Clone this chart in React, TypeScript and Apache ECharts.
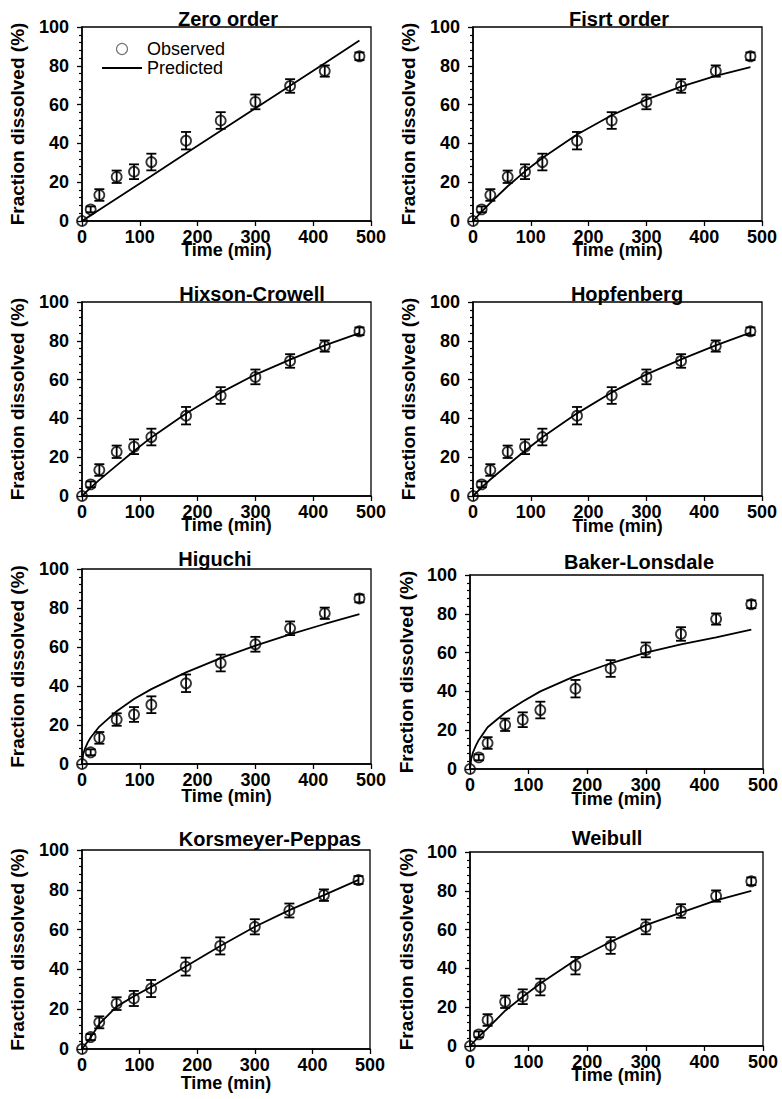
import React, { useEffect, useRef } from "react";
import * as echarts from "echarts";

// ---------- data ----------
const TIME = [0, 15, 30, 60, 90, 120, 180, 240, 300, 360, 420, 480];
const TIME_DENSE = [0, 2, 5, 10, 15, 30, 60, 90, 120, 180, 240, 300, 360, 420, 480];
const OBSERVED = [0, 6.0, 13.4, 22.8, 25.4, 30.4, 41.4, 51.8, 61.4, 69.6, 77.3, 84.9];
const OBSERVED_SD = [0, 1.5, 3.0, 3.2, 3.8, 4.3, 4.5, 4.3, 3.8, 3.5, 2.9, 2.0];

const ZERO_ORDER = [0, 2.9, 5.8, 11.6, 17.4, 23.2, 34.9, 46.5, 58.1, 69.7, 81.3, 93.0];
const FIRST_ORDER = [0, 4.8, 9.4, 17.9, 25.6, 32.5, 44.6, 54.5, 62.6, 69.3, 74.8, 79.3];
const HIXSON_CROWELL = [0, 4.3, 8.3, 15.8, 23.2, 30.2, 42.5, 53.3, 62.6, 70.3, 77.6, 84.0];
const HOPFENBERG = [0, 4.4, 8.5, 16.0, 23.3, 30.3, 42.6, 53.4, 62.7, 70.4, 77.6, 84.2];
const HIGUCHI = [0, 5.0, 7.8, 11.1, 13.6, 19.2, 27.1, 33.3, 38.4, 47.0, 54.3, 60.7, 66.5, 71.8, 76.8];
const BAKER_LONSDALE = [0, 5.0, 8.5, 12.0, 15.0, 21.5, 29.0, 34.8, 40.0, 48.0, 54.5, 60.0, 64.2, 67.8, 71.8];
const KORSMEYER_PEPPAS = [0, 5.8, 12.6, 21.3, 26.5, 31.2, 41.5, 51.8, 61.4, 69.8, 77.3, 85.0];
const WEIBULL = [0, 4.8, 9.1, 18.2, 25.4, 32.2, 44.3, 53.7, 62.3, 68.8, 75.1, 79.9];

const TITLES = [
  "Zero order",
  "Fisrt order",
  "Hixson-Crowell",
  "Hopfenberg",
  "Higuchi",
  "Baker-Lonsdale",
  "Korsmeyer-Peppas",
  "Weibull",
];
const PREDICTED = [
  ZERO_ORDER,
  FIRST_ORDER,
  HIXSON_CROWELL,
  HOPFENBERG,
  HIGUCHI,
  BAKER_LONSDALE,
  KORSMEYER_PEPPAS,
  WEIBULL,
];
const PREDICTED_TIME = [TIME, TIME, TIME, TIME, TIME_DENSE, TIME_DENSE, TIME, TIME];

const X_TICKS = { min: 0, max: 500, interval: 100 };
const Y_TICKS = { min: 0, max: 100, interval: 20 };
const X_NAME = "Time (min)";
const Y_NAME = "Fraction dissolved (%)";

// ---------- layout (not data) ----------
const GRIDS = [
  { left: 82, top: 27, width: 289, height: 194 },
  { left: 473, top: 27, width: 289, height: 194 },
  { left: 82, top: 302, width: 289, height: 194 },
  { left: 473, top: 302, width: 289, height: 194 },
  { left: 82, top: 569, width: 289, height: 195 },
  { left: 470, top: 575, width: 293, height: 194 },
  { left: 82, top: 850, width: 288, height: 199 },
  { left: 470, top: 852, width: 293, height: 194 },
];
const TITLE_POS = [
  [228, 19],
  [619, 19],
  [252, 294],
  [627, 294],
  [215, 559],
  [639, 562],
  [270, 839],
  [607, 838],
];
const X_NAME_OFFSET = [28.5, 28.5, 28.5, 29.5, 32, 29.5, 33.5, 28.5];
const Y_NAME_GAP = [55, 55, 55, 55, 55, 54, 55, 54];

const FONT = "'Liberation Sans', Arial, Helvetica, sans-serif";

function buildOption() {
  const grid: any[] = [];
  const xAxis: any[] = [];
  const yAxis: any[] = [];
  const title: any[] = [];
  const series: any[] = [];

  GRIDS.forEach((g, i) => {
    grid.push({
      ...g,
      show: true,
      borderColor: "#000",
      borderWidth: 1.3,
      backgroundColor: "transparent",
      containLabel: false,
    });
    xAxis.push({
      type: "value",
      gridIndex: i,
      min: X_TICKS.min,
      max: X_TICKS.max,
      interval: X_TICKS.interval,
      name: X_NAME,
      nameLocation: "middle",
      nameGap: X_NAME_OFFSET[i] - 9,
      nameMoveOverlap: false,
      nameTextStyle: { fontFamily: FONT, fontWeight: "bold", fontSize: 18, color: "#000" },
      axisLine: { show: true, onZero: false, lineStyle: { color: "#000", width: 1.5 } },
      axisTick: { show: true, inside: false, length: 5, lineStyle: { color: "#000", width: 1.3 } },
      minorTick: { show: false },
      splitLine: { show: false },
      axisLabel: {
        margin: 7,
        fontFamily: FONT,
        fontWeight: "bold",
        fontSize: 18,
        color: "#000",
        hideOverlap: false,
      },
    });
    yAxis.push({
      type: "value",
      gridIndex: i,
      min: Y_TICKS.min,
      max: Y_TICKS.max,
      interval: Y_TICKS.interval,
      name: Y_NAME,
      nameLocation: "middle",
      nameRotate: 90,
      nameGap: Y_NAME_GAP[i],
      nameMoveOverlap: false,
      nameTextStyle: { fontFamily: FONT, fontWeight: "bold", fontSize: 19, color: "#000" },
      axisLine: { show: true, onZero: false, lineStyle: { color: "#000", width: 1.5 } },
      axisTick: { show: true, inside: false, length: 5, lineStyle: { color: "#000", width: 1.3 } },
      minorTick: { show: true, splitNumber: 5, length: 3, lineStyle: { color: "#000", width: 1.2 } },
      splitLine: { show: false },
      minorSplitLine: { show: false },
      axisLabel: {
        margin: 13,
        fontFamily: FONT,
        fontWeight: "bold",
        fontSize: 18,
        color: "#000",
        hideOverlap: false,
      },
    });
    title.push({
      text: TITLES[i],
      left: TITLE_POS[i][0],
      top: TITLE_POS[i][1] - 10,
      textAlign: "center",
      padding: 0,
      textStyle: {
        fontFamily: FONT,
        fontWeight: "bold",
        fontSize: 20,
        lineHeight: 20,
        color: "#000",
      },
    });

    const predTime = PREDICTED_TIME[i];
    series.push({
      name: "Predicted",
      type: "line",
      xAxisIndex: i,
      yAxisIndex: i,
      data: predTime.map((t, k) => [t, PREDICTED[i][k]]),
      symbol: "none",
      smooth: false,
      clip: false,
      itemStyle: { color: "#000" },
      lineStyle: { color: "#000", width: 1.8 },
      z: 2,
    });
    series.push({
      type: "custom",
      xAxisIndex: i,
      yAxisIndex: i,
      clip: false,
      z: 4,
      encode: { x: 0, y: 1 },
      data: TIME.map((t, k) => [t, OBSERVED[k], OBSERVED_SD[k]]),
      renderItem: (params: any, api: any) => {
        const x = api.value(0);
        const y = api.value(1);
        const sd = api.value(2);
        if (!sd) return { type: "group", children: [] };
        const lo = api.coord([x, y - sd]);
        const hi = api.coord([x, y + sd]);
        const cw = 5;
        const style = { stroke: "#000", lineWidth: 1.8, fill: "none" };
        return {
          type: "group",
          children: [
            { type: "line", shape: { x1: lo[0], y1: lo[1], x2: hi[0], y2: hi[1] }, style },
            { type: "line", shape: { x1: lo[0] - cw, y1: lo[1], x2: lo[0] + cw, y2: lo[1] }, style },
            { type: "line", shape: { x1: hi[0] - cw, y1: hi[1], x2: hi[0] + cw, y2: hi[1] }, style },
          ],
        };
      },
    });
    series.push({
      name: "Observed",
      type: "scatter",
      xAxisIndex: i,
      yAxisIndex: i,
      data: TIME.map((t, k) => [t, OBSERVED[k]]),
      symbol: "circle",
      symbolSize: 10,
      clip: false,
      itemStyle: { color: "rgba(0,0,0,0)", borderColor: "#000", borderWidth: 1.8 },
      z: 3,
    });
  });

  return {
    animation: false,
    backgroundColor: "#fff",
    title,
    grid,
    xAxis,
    yAxis,
    legend: {
      left: 101,
      top: 40,
      orient: "vertical",
      itemWidth: 40,
      itemHeight: 11,
      itemGap: 1,
      padding: 0,
      selectedMode: false,
      textStyle: { fontFamily: FONT, fontSize: 18, color: "#000", padding: [0, 0, 0, 0] },
      data: [
        {
          name: "Observed",
          icon: "circle",
          itemStyle: { color: "rgba(0,0,0,0)", borderColor: "#555", borderWidth: 1.2 },
        },
        {
          name: "Predicted",
          itemStyle: { opacity: 0, color: "rgba(0,0,0,0)", borderWidth: 0 },
          lineStyle: { color: "#000", width: 2 },
        },
      ],
    },
    series,
  };
}

export default function App() {
  const ref = useRef<HTMLDivElement>(null);
  useEffect(() => {
    document.body.style.margin = "0";
    if (!ref.current) return;
    const chart = echarts.init(ref.current, undefined, { renderer: "svg" });
    chart.setOption(buildOption() as any);
    return () => chart.dispose();
  }, []);
  return (
    <div
      ref={ref}
      style={{ position: "absolute", left: 0, top: 0, width: 782, height: 1099, background: "#fff" }}
    />
  );
}
